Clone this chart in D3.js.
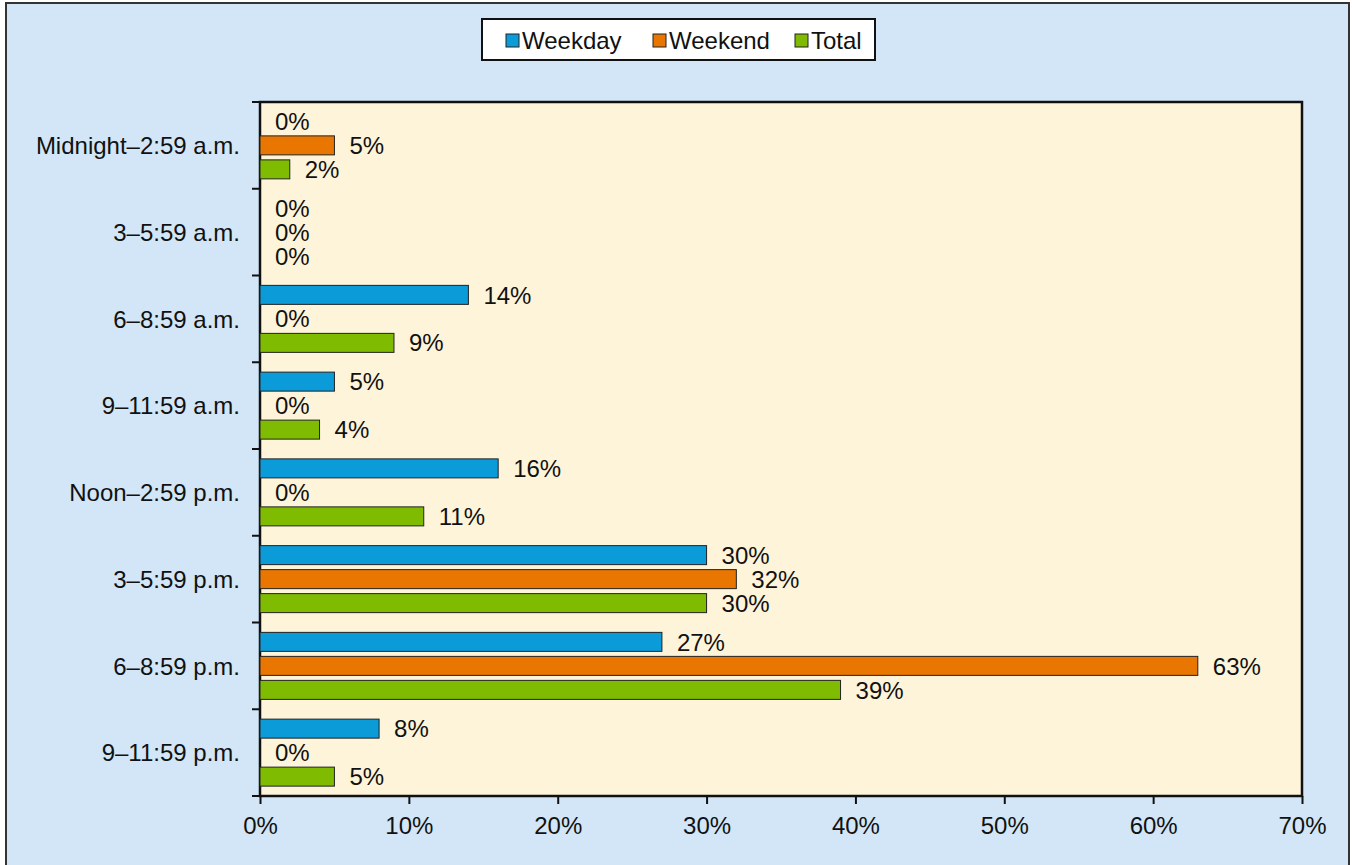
<!DOCTYPE html>
<html>
<head>
<meta charset="utf-8">
<script src="https://cdn.jsdelivr.net/npm/d3@7"></script>
<style>
  body { margin: 0; background: #fff; }
  svg text { font-family: "Liberation Sans", Arial, sans-serif; fill: #111; }
</style>
</head>
<body>
<svg id="chart" width="1352" height="865"></svg>
<script>
// data
var categories = ["Midnight–2:59 a.m.", "3–5:59 a.m.", "6–8:59 a.m.", "9–11:59 a.m.",
                  "Noon–2:59 p.m.", "3–5:59 p.m.", "6–8:59 p.m.", "9–11:59 p.m."];
var seriesNames = ["Weekday", "Weekend", "Total"];
var weekday = [0, 0, 14, 5, 16, 30, 27, 8];
var weekend = [5, 0, 0, 0, 0, 32, 63, 0];
var total   = [2, 0, 9, 4, 11, 30, 39, 5];
var xTicks = [0, 10, 20, 30, 40, 50, 60, 70];

var colors = { Weekday: "#0a9bd8", Weekend: "#e97600", Total: "#7fbb00" };
var fontSize = 24;

var values = { Weekday: weekday, Weekend: weekend, Total: total };
var rows = categories.map((c, i) => ({
    cat: c,
    vals: seriesNames.map(s => ({ key: s, value: values[s][i] }))
}));

var svg = d3.select("#chart"),
    margin = {top: 102, right: 50, bottom: 69, left: 260},
    width = 1352, height = 865;

// outer frame
svg.append("rect")
    .attr("x", 6).attr("y", 3)
    .attr("width", 1343).attr("height", 880)
    .attr("fill", "#d2e6f7")
    .attr("stroke", "#333").attr("stroke-width", 2);

var x = d3.scaleLinear()
    .domain([0, 70])
    .range([margin.left, width - margin.right]);

var y0 = d3.scaleBand()
    .domain(categories)
    .range([margin.top, height - margin.bottom])
    .paddingInner(0.2277)
    .paddingOuter(0.1138);

var y1 = d3.scaleBand()
    .domain(seriesNames)
    .range([0, y0.bandwidth()])
    .paddingInner(5 / 24);

// plot area
svg.append("rect")
    .attr("x", x(0)).attr("y", margin.top)
    .attr("width", x(70) - x(0))
    .attr("height", height - margin.bottom - margin.top)
    .attr("fill", "#fef4da")
    .attr("stroke", "#111").attr("stroke-width", 2.5);

var groups = svg.selectAll(".grp")
    .data(rows)
    .enter().append("g")
    .attr("class", "grp")
    .attr("transform", d => "translate(0," + y0(d.cat) + ")");

groups.selectAll("rect")
    .data(d => d.vals.filter(v => v.value > 0))
    .enter().append("rect")
    .attr("x", x(0))
    .attr("y", d => y1(d.key))
    .attr("width", d => x(d.value) - x(0))
    .attr("height", y1.bandwidth())
    .attr("fill", d => colors[d.key])
    .attr("stroke", "#222").attr("stroke-width", 1);

groups.selectAll("text")
    .data(d => d.vals)
    .enter().append("text")
    .attr("x", d => x(d.value) + 15)
    .attr("y", d => y1(d.key) + y1.bandwidth() / 2)
    .attr("dy", "0.36em")
    .attr("font-size", fontSize)
    .text(d => d.value + "%");

// y axis
var step = y0.step();
var yBounds = d3.range(categories.length + 1).map(i => margin.top + i * step);
svg.append("g").selectAll("line")
    .data(yBounds)
    .enter().append("line")
    .attr("x1", x(0) - 8).attr("x2", x(0))
    .attr("y1", d => d).attr("y2", d => d)
    .attr("stroke", "#111").attr("stroke-width", 2);

svg.append("g").selectAll("text")
    .data(categories)
    .enter().append("text")
    .attr("x", x(0) - 20)
    .attr("y", d => y0(d) + y0.bandwidth() / 2)
    .attr("dy", "0.36em")
    .attr("text-anchor", "end")
    .attr("font-size", fontSize)
    .text(d => d);

// x axis
var xAxis = d3.axisBottom(x)
    .tickValues(xTicks)
    .tickSize(8)
    .tickFormat(d => d + "%");

var gx = svg.append("g")
    .attr("transform", "translate(0," + (height - margin.bottom) + ")")
    .call(xAxis);
gx.select(".domain").remove();
gx.selectAll(".tick line").attr("stroke", "#111").attr("stroke-width", 2);
gx.selectAll(".tick text")
    .attr("font-size", fontSize)
    .attr("font-family", "Liberation Sans, Arial, sans-serif")
    .attr("fill", "#111")
    .attr("dy", 0)
    .attr("y", 38);

// legend
var legend = svg.append("g");
legend.append("rect")
    .attr("x", 482).attr("y", 19)
    .attr("width", 393).attr("height", 41)
    .attr("fill", "#fff")
    .attr("stroke", "#111").attr("stroke-width", 2);

var legendX = [506, 653, 795];
var items = legend.selectAll(".item")
    .data(seriesNames)
    .enter().append("g")
    .attr("class", "item")
    .attr("transform", (d, i) => "translate(" + legendX[i] + ",40.5)");

items.append("rect")
    .attr("x", 0).attr("y", -6.5)
    .attr("width", 13).attr("height", 13)
    .attr("fill", d => colors[d])
    .attr("stroke", "#222").attr("stroke-width", 1);

items.append("text")
    .attr("x", 16)
    .attr("dy", "0.36em")
    .attr("font-size", fontSize)
    .text(d => d);
</script>
</body>
</html>
